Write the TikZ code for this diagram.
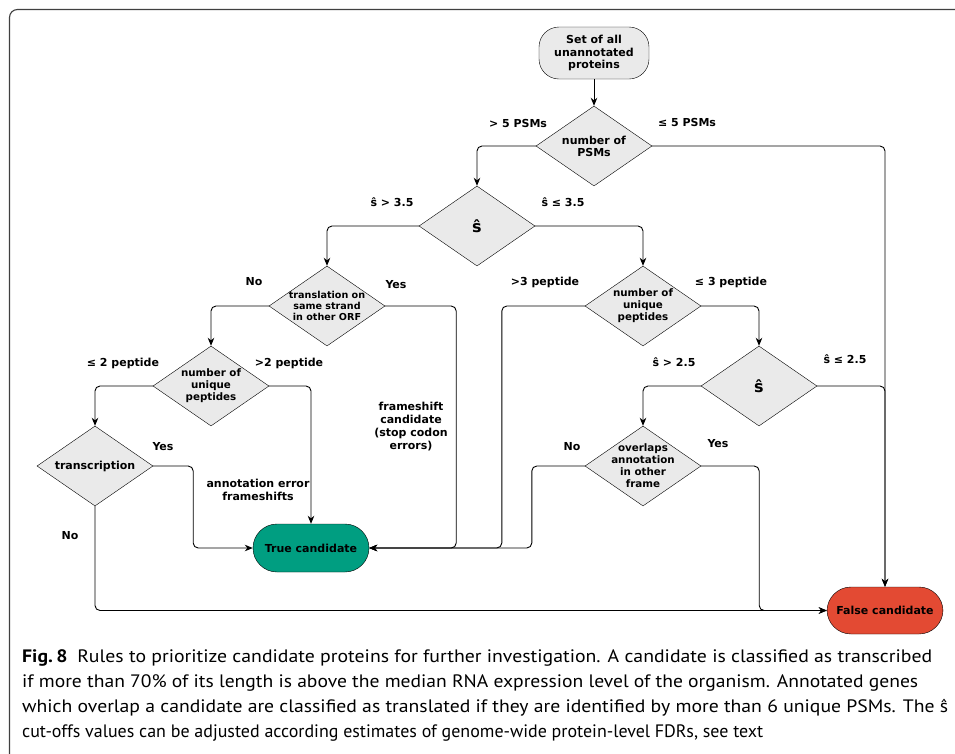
\documentclass[tikz,border=0pt]{standalone}
\usepackage{fontspec}
\usepackage{graphicx}
\setmainfont{DejaVu Sans}
\newfontfamily\capfont{PT Sans}
\usetikzlibrary{arrows.meta,positioning,shapes.geometric}

\definecolor{truegreen}{RGB}{0,158,129}
\definecolor{falsered}{RGB}{227,74,51}
\definecolor{decgray}{RGB}{234,234,234}

% one caption line, stretched sideways to a given width (in pt)
\newcommand{\capline}[2]{\sbox0{#2}\pgfmathsetmacro{\capfac}{#1/\wd0}\scalebox{\capfac}[1]{\usebox0}}

\begin{document}
\begin{tikzpicture}[
x=1pt, y=-1pt,
node distance=80pt and 116pt, on grid,
start/.style={draw, rounded corners=20pt, align=center, minimum width=110pt, minimum height=52pt, fill=decgray, font=\fontsize{11}{12.5}\selectfont\bfseries},
decision/.style={diamond, draw, fill=decgray, minimum width=116pt, minimum height=80pt, inner sep=0pt},
dectext/.style={align=center, font=\fontsize{10.3}{12}\selectfont\bfseries},
hat/.style={font=\fontsize{16}{16}\selectfont\bfseries},
result/.style={draw, rounded corners=24pt, align=center, minimum width=116pt, minimum height=48pt, font=\fontsize{11}{13}\selectfont\bfseries},
lbl/.style={align=center, font=\fontsize{11}{13}\selectfont\bfseries},
capt/.style={anchor=base west, inner sep=0pt, font=\capfont\fontsize{18}{25}\selectfont},
arrow/.style={-{Stealth[length=8pt,width=6.5pt,inset=2.5pt]}, line width=0.9pt, rounded corners=5pt}
]
\useasboundingbox (0,0) rectangle (955,753);
\draw[line width=1.1pt, black!75, rounded corners=8pt] (9.5,765) -- (9.5,9.5) -- (965,9.5);

\node[start] (start) at (594,53) {Set of all\\unannotated\\proteins};
\node[decision, below=93pt of start, label={[dectext, font=\fontsize{11}{12}\selectfont\bfseries]center:{number of\\PSMs}}] (psms) {};
\node[decision, below left=80pt and 117pt of psms, label={[hat]center:ŝ}] (s1) {};
\node[decision, below left=80pt and 150pt of s1, label={[dectext, font=\fontsize{9.6}{11}\selectfont\bfseries]center:{translation on\\same strand\\in other ORF}}] (trans) {};
\node[decision, below left=of trans, label={[dectext]center:{number of\\unique\\peptides}}] (upepL) {};
\node[decision, below left=of upepL, label={[dectext, font=\fontsize{11}{12}\selectfont\bfseries]center:transcription}] (transc) {};
\node[decision, below right=80pt and 166pt of s1, label={[dectext]center:{number of\\unique\\peptides}}] (upepR) {};
\node[decision, below right=of upepR, label={[hat]center:ŝ}] (s2) {};
\node[decision, below left=of s2, label={[dectext]center:{overlaps\\annotation\\in other\\frame}}] (overl) {};
\node[result, fill=truegreen, below right=162pt and 100pt of upepL] (truec) {True candidate};
\node[result, fill=falsered, minimum height=47pt, below right=224.5pt and 126pt of s2] (falsec) {False candidate};

% branch labels
\node[lbl] (l1) at (518,123) {> 5 PSMs};
\node[lbl] (l2) at (687,122) {≤ 5 PSMs};
\node[lbl] (l3) at (392,202) {ŝ > 3.5};
\node[lbl] (l4) at (563,202) {ŝ ≤ 3.5};
\node[lbl] (l5) at (254,282) {No};
\node[lbl] (l6) at (396,285) {Yes};
\node[lbl] (l7) at (545,282) {>3 peptide};
\node[lbl] (l8) at (731,282) {≤ 3 peptide};
\node[lbl] (l9) at (123,363) {≤ 2 peptide};
\node[lbl] (l10) at (289,363) {>2 peptide};
\node[lbl] (l11) at (674,362) {ŝ > 2.5};
\node[lbl] (l12) at (845,359) {ŝ ≤ 2.5};
\node[lbl] (l13) at (163,447) {Yes};
\node[lbl] (l14) at (70,536) {No};
\node[lbl] (l15) at (572,447) {No};
\node[lbl] (l16) at (718,444) {Yes};
\node[lbl] (l17) at (258,489.5) {annotation error\\frameshifts};
\node[lbl] (l18) at (411,426.5) {frameshift\\candidate\\(stop codon\\errors)};

\draw[arrow] (start) -- (psms);
\draw[arrow] (psms.west) -| (s1.north);
\draw[arrow] (psms.east) -| (falsec.north);
\draw[arrow] (s1.west) -| (trans.north);
\draw[arrow] (s1.east) -| (upepR.north);
\draw[arrow] (trans.west) -| (upepL.north);
\draw[arrow] (trans.east) -- ++(71,0) |- (truec.east);
\draw[arrow] (upepL.west) -| (transc.north);
\draw[arrow] (upepL.east) -| (truec.north);
\draw[arrow] (transc.east) -- ++(40,0) |- (truec.west);
\draw[arrow] (transc.south) |- (falsec.west);
\draw[arrow] (upepR.west) -- ++(-83,0) |- (truec.east);
\draw[arrow] (upepR.east) -| (s2.north);
\draw[arrow] (s2.west) -| (overl.north);
\draw[arrow] (s2.east) -| (falsec.north);
\draw[arrow] (overl.west) -- ++(-53,0) |- (truec.east);
\draw[arrow] (overl.east) -- ++(58,0) |- (falsec.west);

% caption
\node[capt] (cap1) at (22,662) {\capline{910}{{\bfseries Fig.\,8}\enspace Rules to prioritize candidate proteins for further investigation. A candidate is classified as transcribed}};
\node[capt] (cap2) at (22,687) {\capline{896}{if more than 70\% of its length is above the median RNA expression level of the organism. Annotated genes}};
\node[capt] (cap3) at (22,712.5) {\capline{926}{which overlap a candidate are classified as translated if they are identified by more than 6 unique PSMs. The ŝ}};
\node[capt] (cap4) at (22,737) {\capline{741}{cut-offs values can be adjusted according estimates of genome-wide protein-level FDRs, see text}};
\end{tikzpicture}
\end{document}
